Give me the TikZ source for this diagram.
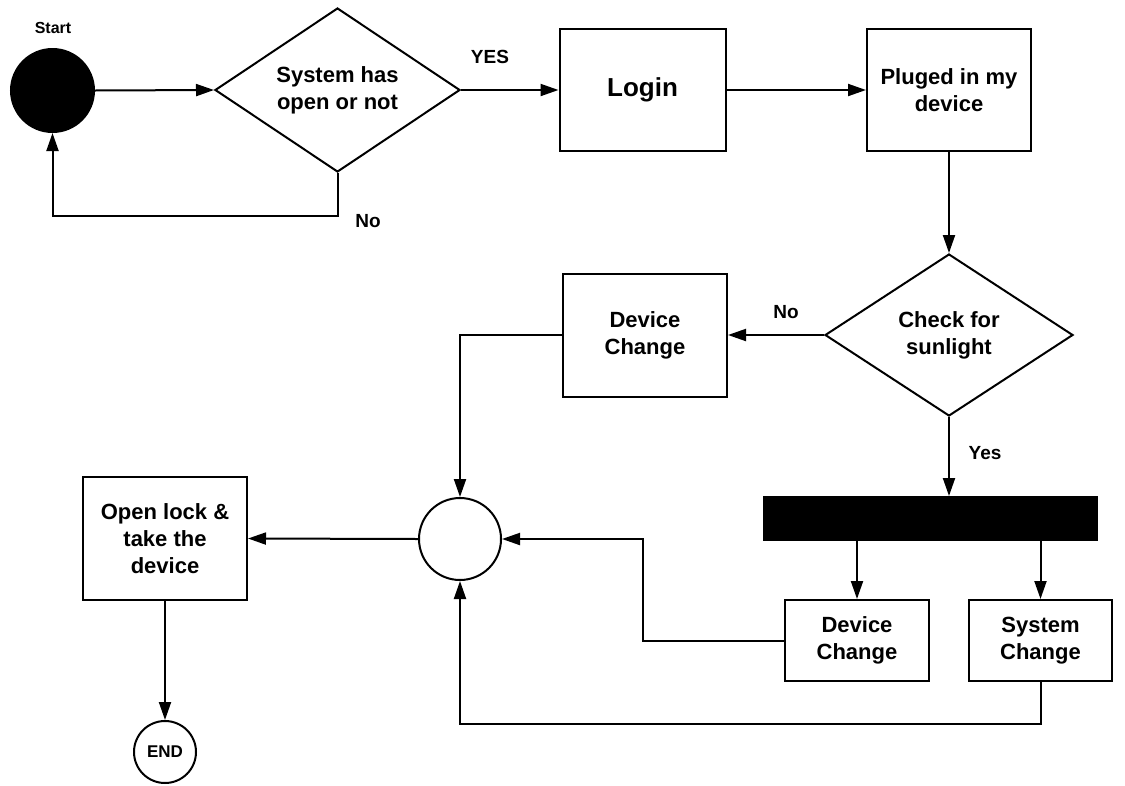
\documentclass[tikz,border=0pt]{standalone}
\usepackage{fontspec}
\setmainfont{Liberation Sans}
\usetikzlibrary{arrows.meta,shapes.geometric}
\begin{document}
\begin{tikzpicture}[x=1pt,y=-1pt,
  line width=2pt,
  arr/.style={-{Triangle[length=18pt,width=12pt]}},
  txt/.style={font=\fontsize{22}{27}\selectfont\bfseries, align=center},
  stepbox/.style={draw, rectangle, inner sep=0pt, txt},
  decision/.style={draw, diamond, inner sep=0pt, aspect=1.5, txt},
  tag/.style={font=\fontsize{19}{22}\selectfont\bfseries, inner sep=0pt}
]
\useasboundingbox (0,0) rectangle (1125,785);

% start / end markers
\node[circle, draw, fill=black, minimum size=83pt, inner sep=0pt] (start) at (52.5,90.5) {};
\node[font=\fontsize{16}{18}\selectfont\bfseries, inner sep=0pt] (startlbl) at (53,28) {Start};
\node[circle, draw, minimum size=62pt, inner sep=0pt, font=\fontsize{17}{20}\selectfont\bfseries] (end) at (165,752) {END};

% decisions
\node[decision, minimum width=245pt, minimum height=164pt] (d1) at (337.5,90) {System has\\open or not};
\node[decision, minimum width=248pt, minimum height=162pt] (d2) at (949,335) {Check for\\sunlight};

% process boxes
\node[stepbox, minimum width=166pt, minimum height=122pt, font=\fontsize{26}{30}\selectfont\bfseries] (login) at (642.5,90) {Login};
\node[stepbox, minimum width=164pt, minimum height=122pt] (plug) at (949,90) {Pluged in my\\device};
\node[stepbox, minimum width=164pt, minimum height=123pt] (dc1) at (645,335) {Device\\Change};
\node[stepbox, minimum width=144pt, minimum height=81pt] (dc2) at (857,640.5) {Device\\Change};
\node[stepbox, minimum width=143pt, minimum height=81pt] (sc) at (1040.5,640.5) {System\\Change};
\node[stepbox, minimum width=164pt, minimum height=123pt] (open) at (165,538.5) {Open lock \&\\take the\\device};

% fork bar and merge node
\node[draw, fill=black, rectangle, minimum width=333pt, minimum height=43pt, inner sep=0pt] (bar) at (930.5,518.5) {};
\node[circle, draw, minimum size=82pt, inner sep=0pt] (merge) at (460,539) {};

% branch labels
\node[tag] (yes1) at (490,57) {YES};
\node[tag] (no1) at (368,221) {No};
\node[tag] (no2) at (786,312) {No};
\node[tag] (yes2) at (985,453) {Yes};

% connectors
\draw[arr] (start.east) -- (d1.west);
\draw[arr] (d1.south) -- ++(0,43) -| (start.south);
\draw[arr] (d1.east) -- (login.west);
\draw[arr] (login.east) -- (plug.west);
\draw[arr] (plug.south) -- (d2.north);
\draw[arr] (d2.west) -- (d2.west -| dc1.east);
\draw[arr] (d2.south) -- (d2.south |- bar.north);
\draw[arr] (dc2.north |- bar.south) -- (dc2.north);
\draw[arr] (sc.north |- bar.south) -- (sc.north);
\draw[arr] (dc1.west) -| (merge.north);
\draw[arr] (dc2.west) -- ++(-141,0) |- (merge.east);
\draw[arr] (sc.south) -- ++(0,42) -| (merge.south);
\draw[arr] (merge.west) -- (open.east);
\draw[arr] (open.south) -- (end.north);
\end{tikzpicture}
\end{document}
